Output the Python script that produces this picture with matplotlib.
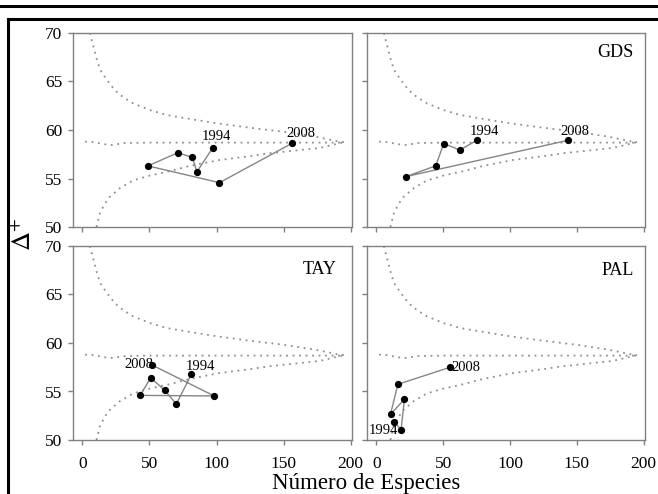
import numpy as np
import matplotlib
matplotlib.use("Agg")
import matplotlib.pyplot as plt
from matplotlib.lines import Line2D

plt.rcParams['font.family'] = ['Liberation Serif', 'DejaVu Serif']
plt.rcParams['mathtext.fontset'] = 'stix'

# funnel (95% limits and mean of Delta+), same in every panel
up_x = [5.6, 10.5, 13.2, 18, 24.2, 30.3, 37.8, 50.2, 62.6, 77.5, 99.8, 124.5, 149.3, 174, 191.4, 195]
up_y = [70.0, 67.4, 66.2, 65.2, 64.1, 63.4, 62.75, 62.06, 61.55, 61.2, 60.7, 60.24, 59.83, 59.3, 58.8, 58.75]
lo_x = [10.5, 13, 16.7, 20.4, 27.9, 37.8, 50.2, 65, 80, 102, 125, 139, 160, 177, 195]
lo_y = [50.0, 51.4, 52.4, 53.1, 54.0, 54.8, 55.3, 55.75, 56.3, 56.9, 57.3, 57.6, 57.9, 58.15, 58.75]
mean_x = [2, 8, 14, 18, 23, 30, 50, 100, 150, 195]
mean_y = [58.8, 58.75, 58.6, 58.5, 58.45, 58.65, 58.7, 58.7, 58.7, 58.7]

# yearly series, 1994 first and 2008 last
tl_x = [97.3, 85.4, 81.9, 71.2, 48.9, 102.2, 156.3]
tl_y = [58.18, 55.7, 57.18, 57.66, 56.3, 54.57, 58.63]
gds_x = [75.3, 62.5, 50.4, 44.4, 22.2, 143.5]
gds_y = [58.94, 57.94, 58.6, 56.3, 55.2, 58.94]
tay_x = [81.2, 70.0, 61.3, 50.9, 43.0, 98.3, 51.9]
tay_y = [56.77, 53.7, 55.15, 56.4, 54.6, 54.54, 57.73]
pal_x = [13.3, 18.5, 21.0, 10.6, 16.1, 55.0]
pal_y = [51.89, 51.06, 54.2, 52.65, 55.74, 57.49]

names = ['', 'GDS', 'TAY', 'PAL']
xticks = [0, 50, 100, 150, 200]
yticks = [50, 55, 60, 65, 70]

fig = plt.figure(figsize=(6.58, 4.94), dpi=100)
W, H = 658, 494

def box(x0, x1, ytop, ybot):
    return [x0 / W, 1 - ybot / H, (x1 - x0) / W, (ybot - ytop) / H]

axs = [fig.add_axes(box(73, 352, 33, 227)),
       fig.add_axes(box(367, 645, 33, 227)),
       fig.add_axes(box(73, 352, 246, 440)),
       fig.add_axes(box(367, 645, 246, 440))]

series = [(tl_x, tl_y), (gds_x, gds_y), (tay_x, tay_y), (pal_x, pal_y)]
# label offsets in pixels (1994, 2008) and alignment
lab = [
    [((4, 11), 'center', 'center'), ((9, 10), 'center', 'center')],
    [((7, 9), 'center', 'center'), ((7, 9), 'center', 'center')],
    [((9, 8), 'center', 'center'), ((1, 1), 'right', 'center')],
    [((-11, -9), 'center', 'center'), ((2, 0), 'left', 'center')],
]
name_pos = [(0.95, 0.895), (0.957, 0.897), (0.946, 0.88), (0.96, 0.876)]

gray = '#808080'
for i, ax in enumerate(axs):
    ax.plot(up_x, up_y, ls=(0, (1, 2.6)), lw=1.3, color='#8f8f8f')
    ax.plot(lo_x, lo_y, ls=(0, (1, 2.6)), lw=1.3, color='#8f8f8f')
    ax.plot(mean_x, mean_y, ls=(0, (1, 2.6)), lw=1.3, color='#8f8f8f')
    sx, sy = series[i]
    ax.plot(sx, sy, '-', color='#858585', lw=1.0, zorder=3)
    ax.plot(sx, sy, 'o', color='black', ms=4.2, zorder=4)
    for k, (idx, yr) in enumerate([(0, '1994'), (-1, '2008')]):
        off, ha, va = lab[i][k]
        ax.annotate(yr, (sx[idx], sy[idx]), xytext=off, textcoords='offset pixels',
                    ha=ha, va=va, fontsize=10.5)
    if names[i]:
        ax.text(name_pos[i][0], name_pos[i][1], names[i], transform=ax.transAxes,
                ha='right', va='center', fontsize=13)
    ax.set_xlim(-7, 201)
    ax.set_ylim(50, 70)
    ax.set_xticks(xticks)
    ax.set_yticks(yticks)
    for s in ax.spines.values():
        s.set_color(gray)
        s.set_linewidth(1.0)
    ax.tick_params(direction='out', length=3.5, width=1.0, color=gray,
                   labelsize=12.5, top=False, right=False)
    ax.tick_params(axis='x', pad=8)
    ax.tick_params(axis='y', pad=4)
    if i in (0, 1):
        ax.tick_params(labelbottom=False)
    if i in (1, 3):
        ax.tick_params(labelleft=False)

fig.text(24 / W, 1 - 234 / H, r'$\Delta^{+}$', rotation=90, fontsize=19,
         ha='center', va='center')
fig.text(366 / W, 1 - 489 / H, 'Número de Especies', ha='center', va='baseline',
         fontsize=16.5)

# document table borders around the figure
fig.add_artist(Line2D([0, 1], [1 - 6 / H, 1 - 6 / H], color='black', lw=2.2,
                      transform=fig.transFigure))
fig.add_artist(Line2D([8 / W, 1], [1 - 19 / H, 1 - 19 / H], color='black', lw=2.2,
                      transform=fig.transFigure))
fig.add_artist(Line2D([8 / W, 8 / W], [1 - 19 / H, 0], color='black', lw=2.2,
                      transform=fig.transFigure))

fig.savefig('out.png', dpi=100)
